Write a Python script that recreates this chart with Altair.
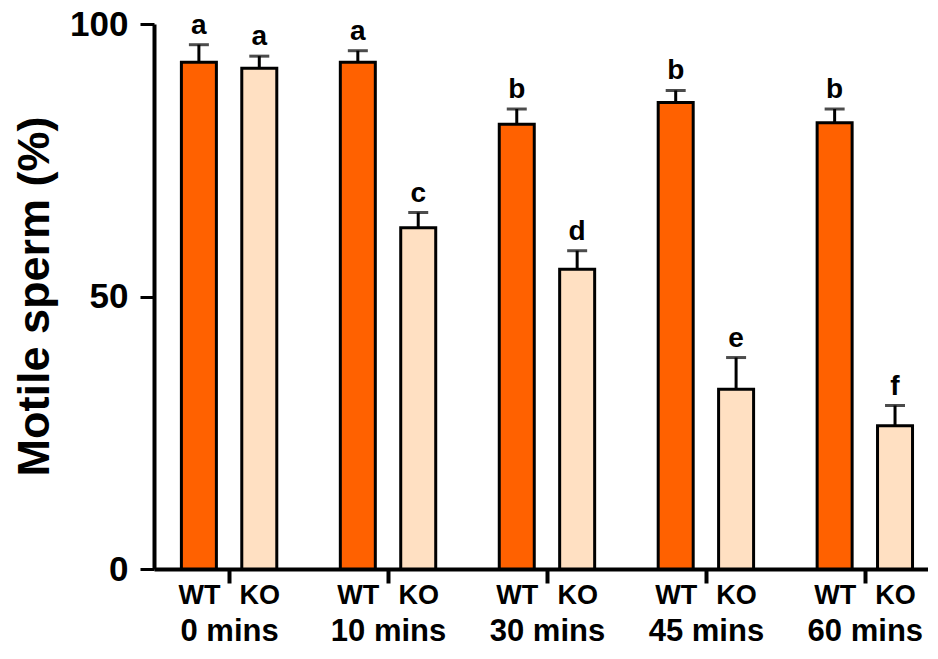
import json
import altair as alt
import pandas as pd

groups = ["0 mins", "10 mins", "30 mins", "45 mins", "60 mins"]
genotypes = ["WT", "KO"]
wt_mean = [93.0, 93.0, 81.6, 85.6, 81.9]
wt_err = [3.2, 2.1, 2.8, 2.2, 2.5]
ko_mean = [91.9, 62.6, 55.0, 33.0, 26.3]
ko_err = [2.2, 2.8, 3.4, 5.8, 3.7]
wt_letters = ["a", "a", "b", "b", "b"]
ko_letters = ["a", "c", "d", "e", "f"]
y_ticks = [0, 50, 100]

OFF = 0.19
rows = []
for i, g in enumerate(groups):
    for geno, m, e, l, s in (("WT", wt_mean[i], wt_err[i], wt_letters[i], -1),
                            ("KO", ko_mean[i], ko_err[i], ko_letters[i], 1)):
        rows.append({"group": g, "genotype": geno, "pos": i + s * OFF,
                     "value": m, "top": m + e, "letter": l})
df = pd.DataFrame(rows)

tick_vals = []
for i in range(len(groups)):
    tick_vals += [i - OFF, i, i + OFF]

FONT = "Liberation Sans"
is_group = "abs(datum.value - round(datum.value)) < 0.01"
label_expr = (f"{is_group} ? {json.dumps(groups)}[round(datum.value)] : "
              "(datum.value < round(datum.value) ? 'WT' : 'KO')")

xaxis = alt.Axis(
    values=tick_vals, labelExpr=label_expr, title=None, grid=False,
    domainColor="black", domainWidth=4, tickColor="black", tickWidth=4, tickSize=14,
    tickOpacity={"condition": {"test": is_group, "value": 1}, "value": 0},
    labelFontSize={"condition": {"test": is_group, "value": 31}, "value": 27},
    labelPadding={"condition": {"test": is_group, "value": 33}, "value": -1},
    labelFont=FONT, labelFontWeight="bold", labelColor="black",
    labelOverlap=False, labelFlush=False, labelBound=False, labelBaseline="top",
)
yaxis = alt.Axis(
    values=y_ticks, title="Motile sperm (%)", grid=False,
    domainColor="black", domainWidth=4, tickColor="black", tickWidth=3, tickSize=14,
    labelFont=FONT, labelFontWeight="bold", labelFontSize=35, labelColor="black",
    labelPadding=12,
    titleFont=FONT, titleFontWeight="bold", titleFontSize=45, titleColor="black",
    titleX=-120, titleY=272, titleAngle=270, titleAlign="center", titleBaseline="middle",
)
xscale = alt.Scale(domain=[-0.441, 4.366], nice=False, zero=False)
yscale = alt.Scale(domain=[0, 100], nice=False)

X = alt.X("pos:Q", scale=xscale, axis=xaxis)

base = alt.Chart(df)

bars = base.mark_bar(size=35, stroke="black", strokeWidth=3).encode(
    x=X,
    y=alt.Y("value:Q", scale=yscale, axis=yaxis),
    color=alt.Color("genotype:N", scale=alt.Scale(domain=genotypes, range=["#FF6100", "#FFE0C2"]), legend=None),
)
err = base.mark_rule(color="black", strokeWidth=3).encode(
    x=X, y=alt.Y("value:Q", scale=yscale, axis=yaxis), y2="top:Q")
caps = base.mark_tick(color="black", orient="horizontal", size=20, thickness=3).encode(
    x=X, y=alt.Y("top:Q", scale=yscale, axis=yaxis))
letters = base.mark_text(font=FONT, fontWeight="bold", fontSize=28, color="black",
                         baseline="alphabetic", dy=-11).encode(
    x=X, y=alt.Y("top:Q", scale=yscale, axis=yaxis), text="letter:N")

chart = alt.layer(bars, err, caps, letters).properties(
    width=774, height=545,
    autosize=alt.AutoSizeParams(type="none"),
    padding={"left": 146, "top": 16, "right": 0, "bottom": 81},
).configure_view(stroke=None)

chart.save("out.html", embed_options={"renderer": "svg", "actions": False})
